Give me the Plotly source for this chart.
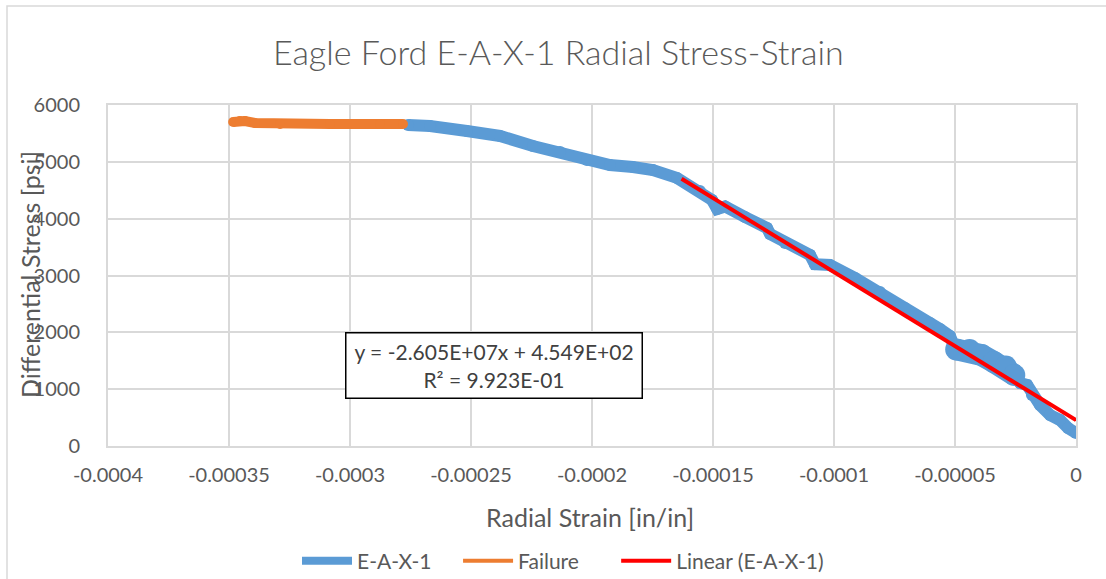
import plotly.graph_objects as go

# ---- data ----
blue_x = [-0.0002760, -0.0002669, -0.0002517, -0.0002380, -0.0002244, -0.0002132,
          -0.0002021, -0.0001926, -0.0001831, -0.0001748, -0.0001649, -0.0001554,
          -0.0001504, -0.0001483, -0.0001450, -0.0001368, -0.0001277, -0.0001264,
          -0.0001202, -0.0001099, -0.0001079, -0.0001017, -0.0000913, -0.0000810,
          -0.0000707, -0.0000603, -0.0000562, -0.0000521, -0.0000500, -0.0000417,
          -0.0000355, -0.0000293, -0.0000231, -0.0000202, -0.0000182, -0.0000149,
          -0.0000107, -0.0000066, -0.0000033, 0.0]
blue_y = [5648, 5630, 5542, 5455, 5279, 5173,
          5032, 4943, 4909, 4856, 4717, 4487,
          4328, 4170, 4215, 4029, 3836, 3730,
          3572, 3361, 3200, 3185, 2956, 2710,
          2428, 2164, 2059, 1935, 1724, 1619,
          1478, 1408, 1108, 1073, 897, 721,
          545, 457, 317, 229]

# thicker cluster of scattered points around -0.00005 .. -0.00002
cluster_x = [-0.0000495, -0.0000440, -0.0000390, -0.0000340, -0.0000290, -0.0000255]
cluster_y = [1700, 1690, 1600, 1480, 1400, 1250]

fail_x = [-0.0003483, -0.0003455, -0.0003434, -0.0003393, -0.0003289, -0.0003083,
          -0.0002876, -0.0002781]
fail_y = [5701, 5718, 5718, 5683, 5666, 5666, 5666, 5666]

trend_slope = -2.605e7
trend_intercept = 454.9
trend_x = [-0.000163, 0.0]
trend_y = [trend_slope * v + trend_intercept for v in trend_x]

x_tickvals = [-0.0004, -0.00035, -0.0003, -0.00025, -0.0002, -0.00015, -0.0001, -0.00005, 0]
x_ticktext = ["-0.0004", "-0.00035", "-0.0003", "-0.00025", "-0.0002", "-0.00015",
              "-0.0001", "-0.00005", "0"]
y_tickvals = [0, 1000, 2000, 3000, 4000, 5000, 6000]

BLUE = "#5b9bd5"
ORANGE = "#ed7d31"
RED = "#ff0000"
TXT = "#595959"
GRID = "#d9d9d9"
FONT = "Lato"
NB = "\u00a0"

fig = go.Figure()
fig.add_trace(go.Scatter(x=blue_x, y=blue_y, mode="lines+markers",
                         line=dict(color=BLUE, width=12), marker=dict(color=BLUE, size=12),
                         showlegend=False))
fig.add_trace(go.Scatter(x=cluster_x, y=cluster_y, mode="lines+markers",
                         line=dict(color=BLUE, width=22), marker=dict(color=BLUE, size=22),
                         showlegend=False))
fig.add_trace(go.Scatter(x=fail_x, y=fail_y, mode="lines+markers",
                         line=dict(color=ORANGE, width=10), marker=dict(color=ORANGE, size=10),
                         showlegend=False))
fig.add_trace(go.Scatter(x=trend_x, y=trend_y, mode="lines",
                         line=dict(color=RED, width=4), showlegend=False))
# legend entries
fig.add_trace(go.Scatter(x=[None], y=[None], mode="lines", name="E-A-X-1" + NB * 4,
                         line=dict(color=BLUE, width=8)))
fig.add_trace(go.Scatter(x=[None], y=[None], mode="lines", name="Failure" + NB * 6,
                         line=dict(color=ORANGE, width=4)))
fig.add_trace(go.Scatter(x=[None], y=[None], mode="lines", name="Linear (E-A-X-1)",
                         line=dict(color=RED, width=4)))

L, R, T, B = 108, 30, 105, 133
W, H = 1106, 579
PW, PH = W - L - R, H - T - B

def px_x(p):
    return (p - L) / PW

def px_y(p):
    return (H - B - p) / PH

fig.update_layout(
    width=W, height=H,
    margin=dict(l=L, r=R, t=T, b=B, autoexpand=False),
    paper_bgcolor="white", plot_bgcolor="white",
    font=dict(family=FONT, color=TXT, size=20),
    xaxis=dict(range=[-0.0004, 0], tickvals=x_tickvals, ticktext=x_ticktext,
               showgrid=True, gridcolor=GRID, gridwidth=2, zeroline=False,
               showline=True, linecolor=GRID, linewidth=2, mirror=True,
               ticks="outside", ticklen=10, tickcolor="rgba(0,0,0,0)",
               tickfont=dict(size=20, color=TXT)),
    yaxis=dict(range=[0, 6000], tickvals=y_tickvals,
               showgrid=True, gridcolor=GRID, gridwidth=2, zeroline=False,
               showline=True, linecolor=GRID, linewidth=2, mirror=True,
               ticks="outside", ticklen=22, tickcolor="rgba(0,0,0,0)",
               tickfont=dict(size=20, color=TXT)),
    legend=dict(orientation="h", x=297 / W, y=1 - 561 / H, xref="container",
                yref="container", xanchor="left", yanchor="middle",
                font=dict(size=21, color=TXT), bgcolor="rgba(0,0,0,0)",
                itemwidth=50),
    showlegend=True,
)

annotations = [
    dict(text="Eagle Ford E-A-X-1 Radial Stress-Strain", xref="paper", yref="paper",
         x=px_x(558), y=px_y(52), xanchor="center", yanchor="middle", showarrow=False,
         font=dict(size=34, color=TXT, family=FONT, weight=300)),
    dict(text="Radial Strain [in/in]", xref="paper", yref="paper",
         x=px_x(590), y=px_y(517), xanchor="center", yanchor="middle", showarrow=False,
         font=dict(size=25, color=TXT, family=FONT)),
    dict(text="Differential Stress [psi]", xref="paper", yref="paper",
         x=px_x(30), y=px_y(275), xanchor="center", yanchor="middle", showarrow=False,
         textangle=-90, font=dict(size=25, color=TXT, family=FONT)),
    dict(text="y = -2.605E+07x + 4.549E+02<br>R² = 9.923E-01", xref="paper", yref="paper",
         x=px_x(493.5), y=px_y(365), xanchor="center", yanchor="middle", showarrow=False,
         align="center", width=291, height=60, borderpad=2,
         bordercolor="#000000", borderwidth=1.5, bgcolor="white",
         font=dict(size=21, color="#404040", family=FONT)),
]
fig.update_layout(annotations=annotations)

fig.add_shape(type="rect", xref="paper", yref="paper",
              x0=px_x(7), x1=px_x(1112), y0=px_y(590), y1=px_y(6),
              line=dict(color=GRID, width=1.5), fillcolor="rgba(0,0,0,0)", layer="below")

fig.write_html("out.html")
